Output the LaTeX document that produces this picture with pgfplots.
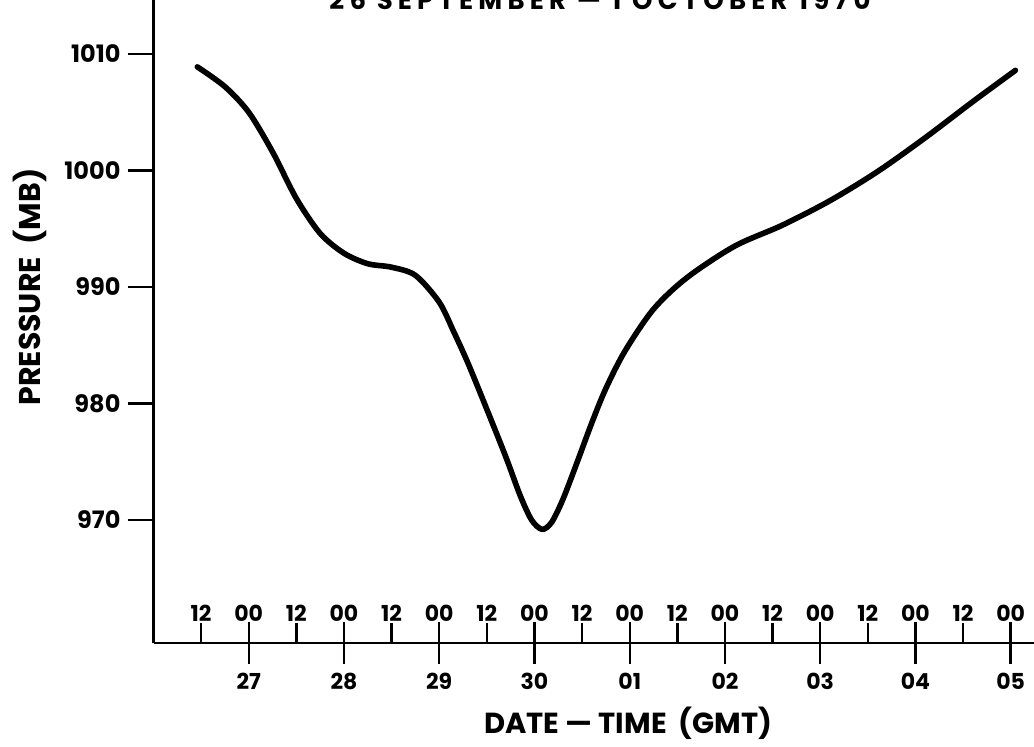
\documentclass[border=0pt]{standalone}
\usepackage{fontspec}
\setmainfont{Poppins}
\usepackage{pgfplots}
\pgfplotsset{compat=1.18}
\begin{document}
\begin{tikzpicture}[font=\bfseries]
\begin{axis}[
  at={(76.75pt,51.5pt)}, anchor=south west,
  scale only axis,
  width=440.5pt, height=321.5pt,
  xmin=26, xmax=35.25, ymin=959.44, ymax=1014.64,
  enlargelimits=false,
  axis lines=left,
  axis line style={-, line width=1.3pt},
  every tick/.style={black, line width=1.2pt},
  /pgf/number format/assume math mode=true,
  /pgf/number format/1000 sep={},
  major tick length=21pt,
  ytick=\empty,
  extra y ticks={970,980,990,1000,1010},
  extra y tick style={ytick align=outside, major tick length=13pt,
    yticklabel style={font=\bfseries\fontsize{12}{14}\selectfont}},
  xtick={27,28,29,30,31,32,33,34,35},
  xticklabels={27,28,29,30,01,02,03,04,05},
  xtick align=center,
  x tick label style={font=\bfseries\fontsize{11}{12}\selectfont, yshift=-1pt},
  extra x ticks={26.5,27,27.5,28,28.5,29,29.5,30,30.5,31,31.5,32,32.5,33,33.5,34,34.5,35},
  extra x tick labels={12,00,12,00,12,00,12,00,12,00,12,00,12,00,12,00,12,00},
  extra x tick style={xtick align=inside, major tick length=10pt,
    xticklabel style={anchor=south, yshift=8pt, font=\bfseries\fontsize{11}{12}\selectfont}},
  xlabel={DATE — TIME\ \ (GMT)},
  xlabel style={at={(axis description cs:0.539,-0.1244)}, anchor=center, font=\bfseries\fontsize{14.5}{16}\selectfont},
  ylabel={PRESSURE\ \ (MB)},
  ylabel style={at={(axis description cs:-0.1403,0.5537)}, anchor=center, font=\bfseries\fontsize{15}{17}\selectfont},
  clip=false,
]
\addplot[black, line width=2.8pt, smooth, tension=0.5, line cap=round] coordinates {
(26.46,1008.9) (26.75,1007.2) (27.00,1005.0) (27.25,1001.6) (27.50,997.6)
(27.75,994.6) (28.00,992.9) (28.25,992.0) (28.50,991.7) (28.75,991.0)
(29.00,988.7) (29.15,986.2) (29.30,983.5) (29.50,979.5) (29.70,975.4)
(29.85,972.1) (29.97,970.0) (30.08,969.2) (30.18,969.8) (30.30,971.8)
(30.45,975.0) (30.60,978.3) (30.75,981.3) (30.95,984.5) (31.25,988.1)
(31.60,990.8) (32.10,993.5) (32.60,995.3) (33.10,997.4) (33.60,999.9)
(34.10,1002.8) (34.60,1005.9) (35.05,1008.6)
};
\end{axis}
\node[anchor=base, font=\bfseries\fontsize{13}{15}\selectfont\addfontfeature{LetterSpace=20}] at (300pt,368pt) {26 SEPTEMBER — 1 OCTOBER 1970};
\pgfresetboundingbox
\useasboundingbox (0,0) rectangle (517pt,373pt);
\end{tikzpicture}
\end{document}
